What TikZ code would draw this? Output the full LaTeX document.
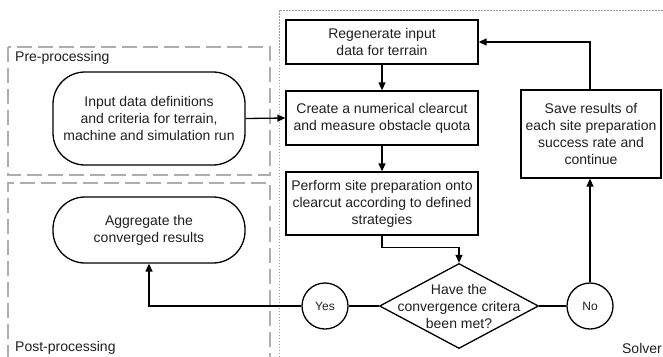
\documentclass[tikz,border=0pt]{standalone}
\usepackage{fontspec}
\setmainfont{Liberation Sans}
\usetikzlibrary{arrows.meta,shapes.geometric}
\begin{document}
\begin{tikzpicture}[x=1pt,y=-1pt,
  txt/.style={font=\fontsize{14}{17}\selectfont,align=center,text=black!88},
  stepbox/.style={txt,draw,line width=1.3pt,rectangle,inner sep=0pt},
  terminal/.style={txt,draw,line width=1.3pt,rectangle,rounded corners=32pt,inner sep=0pt},
  decision/.style={draw,line width=1.3pt,diamond,inner sep=0pt},
  answer/.style={draw,line width=1.3pt,circle,inner sep=0pt,minimum size=46pt,text=black!88,font=\fontsize{12}{14}\selectfont},
  flow/.style={line width=1.3pt,-{Triangle[length=8pt,width=7pt]}},
  link/.style={line width=1.3pt},
  region/.style={draw=black!32,line width=1.4pt,dash pattern=on 15pt off 6pt},
  solverregion/.style={draw=black!40,line width=0.8pt,dash pattern=on 1.5pt off 1.5pt},
  regionlabel/.style={font=\fontsize{14}{17}\selectfont,text=black!88,inner sep=0pt}
]
\useasboundingbox (0,0) rectangle (663,356);

% process regions
\draw[solverregion] (279,357) -- (279,10) -- (664,10);
\draw[region] (8,47) rectangle (270,175);
\draw[region] (8,360) -- (8,183) -- (270,183) -- (270,360);
\node[regionlabel,anchor=west] (prelabel) at (15,58) {Pre-processing};
\node[regionlabel,anchor=west] (postlabel) at (15,348) {Post-processing};
\node[regionlabel,anchor=east] (solverlabel) at (662,348) {Solver};

% flowchart nodes
\node[terminal,minimum width=192pt,minimum height=93pt] (input) at (149,118.5)
  {Input data definitions\\and criteria for terrain,\\machine and simulation run};
\node[terminal,minimum width=192pt,minimum height=66pt] (aggregate) at (149,230)
  {Aggregate the\\converged results};
\node[stepbox,minimum width=192pt,minimum height=44pt] (regen) at (382,42)
  {Regenerate input\\data for terrain};
\node[stepbox,minimum width=192pt,minimum height=54pt] (create) at (382,118)
  {Create a numerical clearcut\\and measure obstacle quota};
\node[stepbox,minimum width=192pt,minimum height=63pt] (perform) at (382,203.5)
  {Perform site preparation onto\\clearcut according to defined\\strategies};
\node[stepbox,minimum width=140pt,minimum height=88pt] (save) at (591,134)
  {Save results of\\each site preparation\\success rate and\\continue};
\node[decision,minimum width=159pt,minimum height=85pt] (check) at (459,306) {};
\node[txt] (checktext) at (check.center) {Have the\\convergence critera\\been met?};
\node[answer] (yes) at (325,306) {Yes};
\node[answer] (no) at (590,306) {No};

% connectors
\draw[flow] (input.east) -- (create.west);
\draw[flow] (regen) -- (create);
\draw[flow] (create) -- (perform);
\draw[flow] (perform.south) -- ++(0,12) -| (check.north);
\draw[link] (check.west) -- (yes.east);
\draw[link] (check.east) -- (no.west);
\draw[flow] (yes.west) -| (aggregate.south);
\draw[flow] (no.north) -- (save.south -| no.north);
\draw[flow] (save.north -| no.north) |- (regen.east);
\end{tikzpicture}
\end{document}
